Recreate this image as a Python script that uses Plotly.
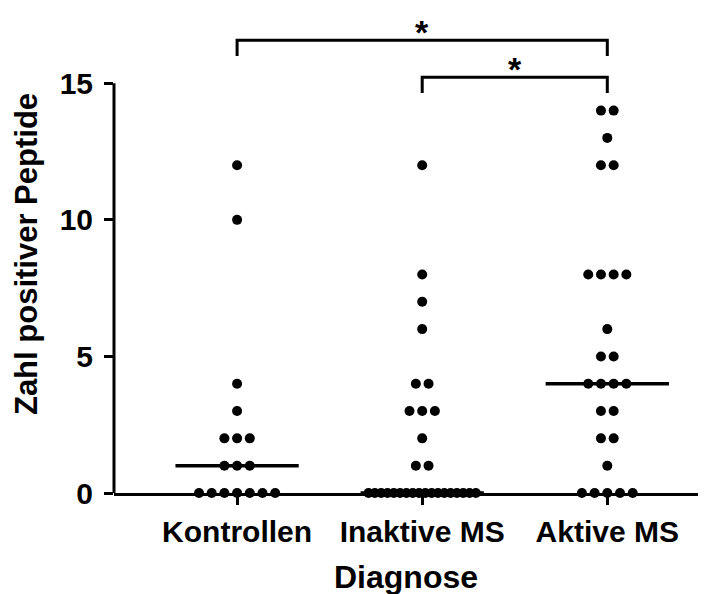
import numpy as np
import plotly.graph_objects as go

# ---------------- data ----------------
categories = ["Kontrollen", "Inaktive MS", "Aktive MS"]
kontrollen = [12, 10, 4, 3, 2, 2, 2, 1, 1, 1, 0, 0, 0, 0, 0, 0, 0]
inaktive_ms = [12, 8, 7, 6, 4, 4, 3, 3, 3, 2, 1, 1,
               0, 0, 0, 0, 0, 0, 0, 0, 0, 0, 0, 0, 0, 0, 0, 0, 0, 0]
aktive_ms = [14, 14, 13, 12, 12, 8, 8, 8, 8, 6, 5, 5, 4, 4, 4, 4,
             3, 3, 2, 2, 1, 0, 0, 0, 0, 0]
y_ticks = [0, 5, 10, 15]
comparisons = [(0, 2), (1, 2)]          # significance brackets
bracket_heights = [16.58, 15.22]
bracket_labels = ["*", "*"]

groups = [kontrollen, inaktive_ms, aktive_ms]

# ---------------- style / layout constants ----------------
FONT = "Liberation Sans, Arial, sans-serif"
DOT_GAP = 0.0686      # horizontal spacing between tied dots (x units)
MAX_SPAN = 0.58       # max width of a row of tied dots (x units)
MEDIAN_HALF = 0.333
LEG = 0.58
STAR_OFFSET = 0.30

fig = go.Figure()


def swarm_offsets(values):
    vals = np.asarray(values, dtype=float)
    offs = np.zeros(len(vals))
    for v in np.unique(vals):
        idx = np.where(vals == v)[0]
        k = len(idx)
        gap = DOT_GAP if k < 2 else min(DOT_GAP, MAX_SPAN / (k - 1))
        offs[idx] = (np.arange(k) - (k - 1) / 2) * gap
    return offs


for i, vals in enumerate(groups):
    xs = i + swarm_offsets(vals)
    fig.add_trace(go.Scatter(
        x=xs, y=vals, mode="markers",
        marker=dict(size=10, color="black", line=dict(width=0)),
        cliponaxis=False, showlegend=False, hoverinfo="y"))
    med = float(np.median(vals))
    fig.add_trace(go.Scatter(
        x=[i - MEDIAN_HALF, i + MEDIAN_HALF], y=[med, med], mode="lines",
        line=dict(color="black", width=3.5), showlegend=False,
        hoverinfo="skip", cliponaxis=False))

# significance brackets
for (a, b), h, lab in zip(comparisons, bracket_heights, bracket_labels):
    fig.add_trace(go.Scatter(
        x=[a, a, b, b], y=[h - LEG, h, h, h - LEG], mode="lines",
        line=dict(color="black", width=3), showlegend=False,
        hoverinfo="skip"))
    fig.add_annotation(x=(a + b) / 2, y=h + STAR_OFFSET, text=lab,
                       showarrow=False, yanchor="middle",
                       font=dict(family=FONT, size=34, color="black",
                                 weight="bold"))

# y axis line only up to the top tick
fig.add_shape(type="line", xref="x domain", x0=0, x1=0, yref="y",
              y0=0, y1=max(y_ticks), line=dict(color="black", width=3))

fig.update_layout(
    width=717, height=594,
    margin=dict(l=106, r=27, t=7, b=109),
    paper_bgcolor="white", plot_bgcolor="white",
    font=dict(family=FONT, color="black"),
    xaxis=dict(
        range=[-0.665, 2.49], tickvals=list(range(len(categories))),
        ticktext=categories, showgrid=False, zeroline=False,
        showline=True, linecolor="black", linewidth=3,
        ticks="outside", ticklen=9, tickwidth=3, tickcolor="black",
        tickfont=dict(family=FONT, size=30, color="black", weight="bold"),
        ticklabelstandoff=1,
        title=dict(text="Diagnose", standoff=19,
                   font=dict(family=FONT, size=32, color="black",
                             weight="bold"))),
    yaxis=dict(
        range=[0, 17.5], tickvals=y_ticks, showgrid=False, zeroline=False,
        showline=False, ticks="outside", ticklen=9, tickwidth=3,
        tickcolor="black",
        tickfont=dict(family=FONT, size=30, color="black", weight="bold"),
        ticklabelstandoff=5,
        title=dict(text="Zahl positiver Peptide", standoff=12,
                   font=dict(family=FONT, size=31, color="black",
                             weight="bold"))),
)

fig.write_html("out.html")
